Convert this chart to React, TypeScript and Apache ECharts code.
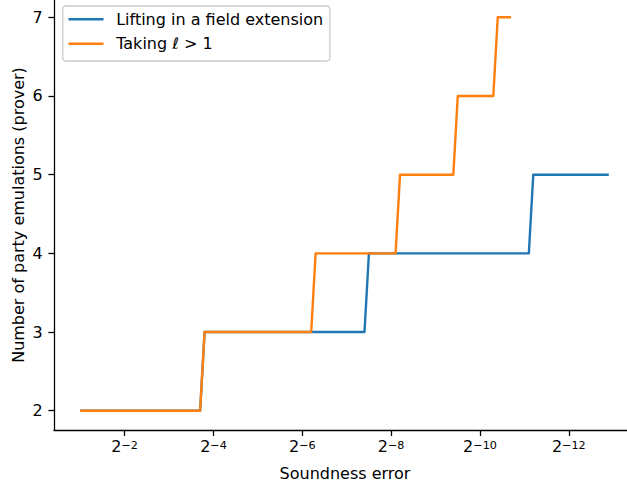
import React, { useEffect, useRef } from "react";
import * as echarts from "echarts";

// x values are exponents n of the soundness error 2^-n
const liftingX = [1, 3.7, 3.8, 7.4, 7.5, 11.1, 11.2, 12.9];
const liftingY = [2, 2, 3, 3, 4, 4, 5, 5];
const takingX = [1, 3.7, 3.8, 6.2, 6.3, 8.1, 8.2, 9.4, 9.5, 10.3, 10.4, 10.7];
const takingY = [2, 2, 3, 3, 4, 4, 5, 5, 6, 6, 7, 7];
const xTickExponents = [2, 4, 6, 8, 10, 12];
const yTicks = [2, 3, 4, 5, 6, 7];
const seriesNames = ["Lifting in a field extension", "Taking \u2113 > 1"];
const xTitle = "Soundness error";
const yTitle = "Number of party emulations (prover)";

const FONT = "DejaVu Sans";
const FS = 16;

export default function App() {
  const ref = useRef<HTMLDivElement>(null);
  useEffect(() => {
    if (!ref.current) return;
    const chart = echarts.init(ref.current, null, { renderer: "svg" });
    const pair = (xs: number[], ys: number[]) => xs.map((x, i) => [x, ys[i]]);
    const axisLineStyle = { color: "#000", width: 1.28 };
    chart.setOption({
      animation: false,
      textStyle: { fontFamily: FONT },
      grid: { left: 54, right: 0, top: 0, bottom: 56.6, containLabel: false, outerBoundsMode: "none" },
      xAxis: {
        type: "value",
        min: 0.41,
        max: 13.31,
        name: xTitle,
        nameLocation: "middle",
        nameGap: 34,
        nameTextStyle: { fontFamily: FONT, fontSize: FS, color: "#000", lineHeight: 18, padding: [0, 0, 0, 9] },
        axisLine: { show: true, lineStyle: axisLineStyle },
        axisTick: { show: true, inside: false, length: 5.6, lineStyle: axisLineStyle, customValues: xTickExponents },
        splitLine: { show: false },
        axisLabel: {
          margin: 10,
          fontSize: FS,
          fontFamily: FONT,
          color: "#000",
          customValues: xTickExponents,
          formatter: (v: number) => `{b|2}{s|\u2212${Math.round(v)}}`,
          rich: {
            b: { fontFamily: FONT, fontSize: FS, color: "#000", lineHeight: 14.4, verticalAlign: "bottom" },
            s: { fontFamily: FONT, fontSize: 11.2, color: "#000", lineHeight: 6, verticalAlign: "top" },
          },
        },
      },
      yAxis: {
        type: "value",
        min: 1.75,
        max: 7.22,
        axisLine: { show: true, lineStyle: axisLineStyle },
        axisTick: { show: true, inside: false, length: 5.6, lineStyle: axisLineStyle, customValues: yTicks },
        splitLine: { show: false },
        axisLabel: { margin: 11.2, customValues: yTicks, fontFamily: FONT, fontSize: FS, color: "#000" },
      },
      graphic: [
        {
          type: "text",
          x: 18.3,
          y: 215,
          rotation: Math.PI / 2,
          style: {
            text: yTitle,
            fontFamily: FONT,
            fontSize: FS,
            fill: "#000",
            align: "center",
            verticalAlign: "middle",
          },
        },
      ],
      legend: {
        orient: "vertical",
        left: 62.7,
        top: 6,
        padding: [5.1, 6.7, 9.1, 4.6],
        itemWidth: 35,
        itemHeight: 14,
        itemGap: 8,
        data: seriesNames,
        itemStyle: { opacity: 0, borderWidth: 0 },
        lineStyle: { width: 2.4 },
        textStyle: { fontFamily: FONT, fontSize: FS, color: "#000", lineHeight: 16.4, padding: [0, 0, 0, 7.7] },
        backgroundColor: "rgba(255,255,255,0.8)",
        borderColor: "#cccccc",
        borderWidth: 1.3,
        borderRadius: 3,
      },
      series: [
        {
          name: seriesNames[0],
          type: "line",
          data: pair(liftingX, liftingY),
          symbol: "none",
          showSymbol: false,
          color: "#1f77b4",
          lineStyle: { color: "#1f77b4", width: 2.4, join: "round" },
        },
        {
          name: seriesNames[1],
          type: "line",
          data: pair(takingX, takingY),
          symbol: "none",
          showSymbol: false,
          color: "#ff7f0e",
          lineStyle: { color: "#ff7f0e", width: 2.4, join: "round" },
        },
      ],
    });
    return () => chart.dispose();
  }, []);
  return <div ref={ref} style={{ position: "absolute", left: 0, top: 0, width: 627, height: 487 }} />;
}
